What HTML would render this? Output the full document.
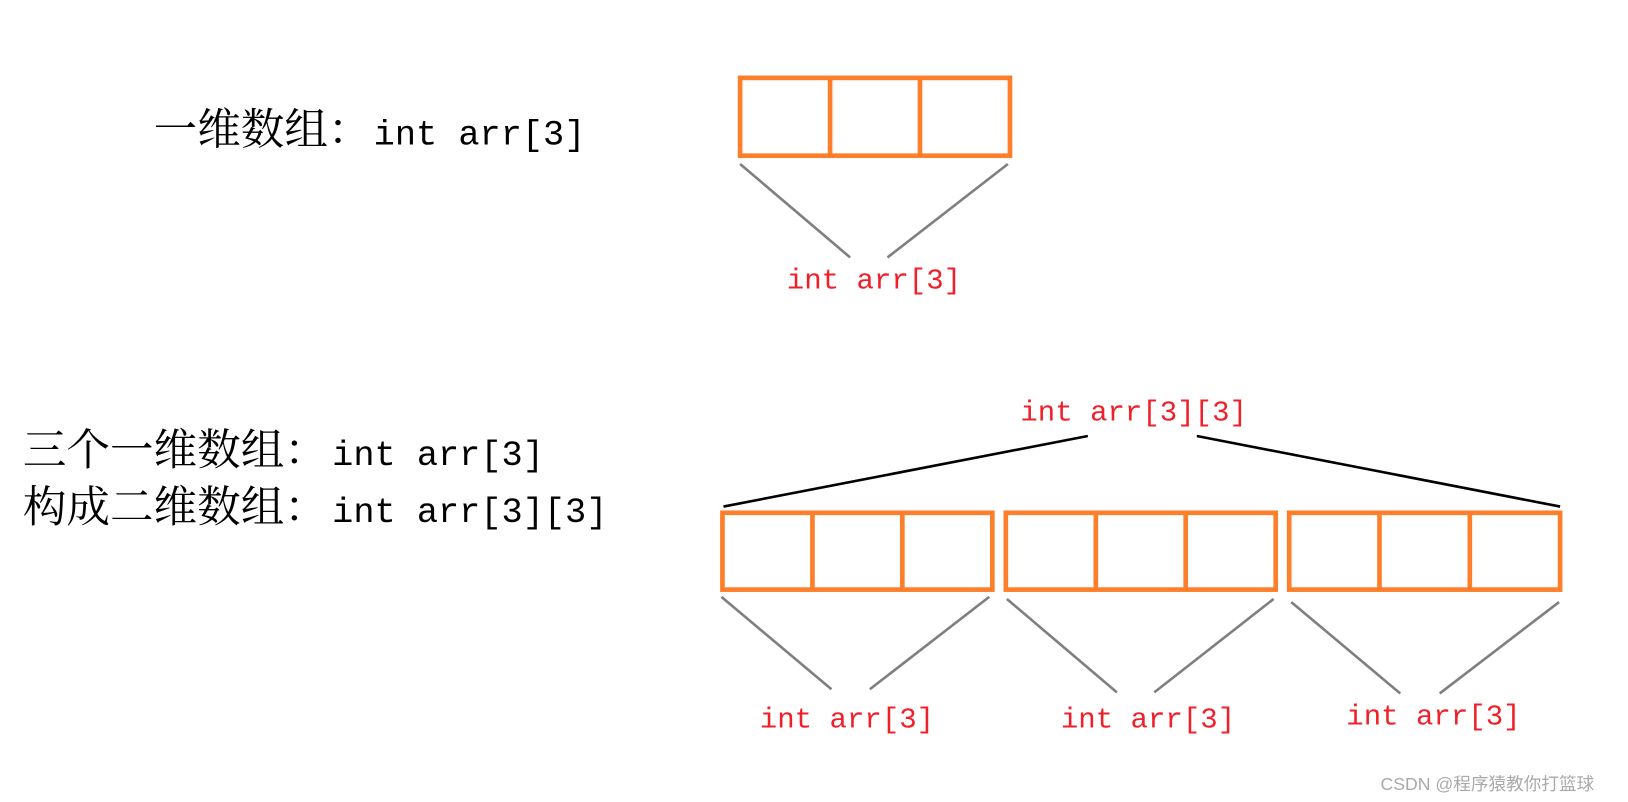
<!DOCTYPE html>
<html><head><meta charset="utf-8"><style>html,body{margin:0;padding:0;background:#fff;width:1628px;height:802px;overflow:hidden}</style></head>
<body>
<svg width="1628" height="802" viewBox="0 0 1568.4 772.6" preserveAspectRatio="none" xmlns="http://www.w3.org/2000/svg">
<g font-family="'Noto Serif CJK SC', serif" fill="#000">
<text x="148" y="139"><tspan font-size="42">一维数组：</tspan><tspan x="360" font-family="'Liberation Mono', monospace" font-size="34">int arr[3]</tspan></text>
<text x="22" y="448"><tspan font-size="42">三个一维数组：</tspan><tspan x="320" font-family="'Liberation Mono', monospace" font-size="34">int arr[3]</tspan></text>
<text x="22" y="503"><tspan font-size="42">构成二维数组：</tspan><tspan x="320" font-family="'Liberation Mono', monospace" font-size="34">int arr[3][3]</tspan></text>
</g>
<g fill="none" stroke="#fd7f2c" stroke-width="4.5">
<rect x="713" y="75" width="260" height="75"/><line x1="799.7" y1="75" x2="799.7" y2="150"/><line x1="886.3" y1="75" x2="886.3" y2="150"/>
<rect x="696" y="494" width="260" height="74"/><line x1="782.7" y1="494" x2="782.7" y2="568"/><line x1="869.3" y1="494" x2="869.3" y2="568"/>
<rect x="969" y="494" width="260" height="74"/><line x1="1055.7" y1="494" x2="1055.7" y2="568"/><line x1="1142.3" y1="494" x2="1142.3" y2="568"/>
<rect x="1242" y="494" width="261" height="74"/><line x1="1329" y1="494" x2="1329" y2="568"/><line x1="1416" y1="494" x2="1416" y2="568"/>
</g>
<g stroke="#7f7f7f" stroke-width="2.5">
<line x1="713" y1="158" x2="819" y2="248"/><line x1="971" y1="158" x2="855" y2="248"/>
<line x1="695" y1="575" x2="801" y2="664"/><line x1="953" y1="575" x2="838" y2="664"/>
<line x1="970" y1="577" x2="1076" y2="667"/><line x1="1227" y1="577" x2="1112" y2="667"/>
<line x1="1244" y1="580" x2="1349" y2="668"/><line x1="1502" y1="580" x2="1387" y2="668"/>
</g>
<g stroke="#000" stroke-width="2.5">
<line x1="697" y1="488" x2="1048" y2="420"/><line x1="1153" y1="420" x2="1503" y2="488"/>
</g>
<g font-family="'Liberation Mono', monospace" font-size="28" fill="#f0202a">
<text x="758" y="278">int arr[3]</text>
<text x="983" y="405">int arr[3][3]</text>
<text x="732" y="701">int arr[3]</text>
<text x="1022" y="701">int arr[3]</text>
<text x="1297" y="698">int arr[3]</text>
</g>
<text x="1330" y="761" font-family="'Liberation Sans', 'Noto Sans CJK SC', sans-serif" font-size="17" fill="#aaa">CSDN @程序猿教你打篮球</text>
</svg>
</body></html>
